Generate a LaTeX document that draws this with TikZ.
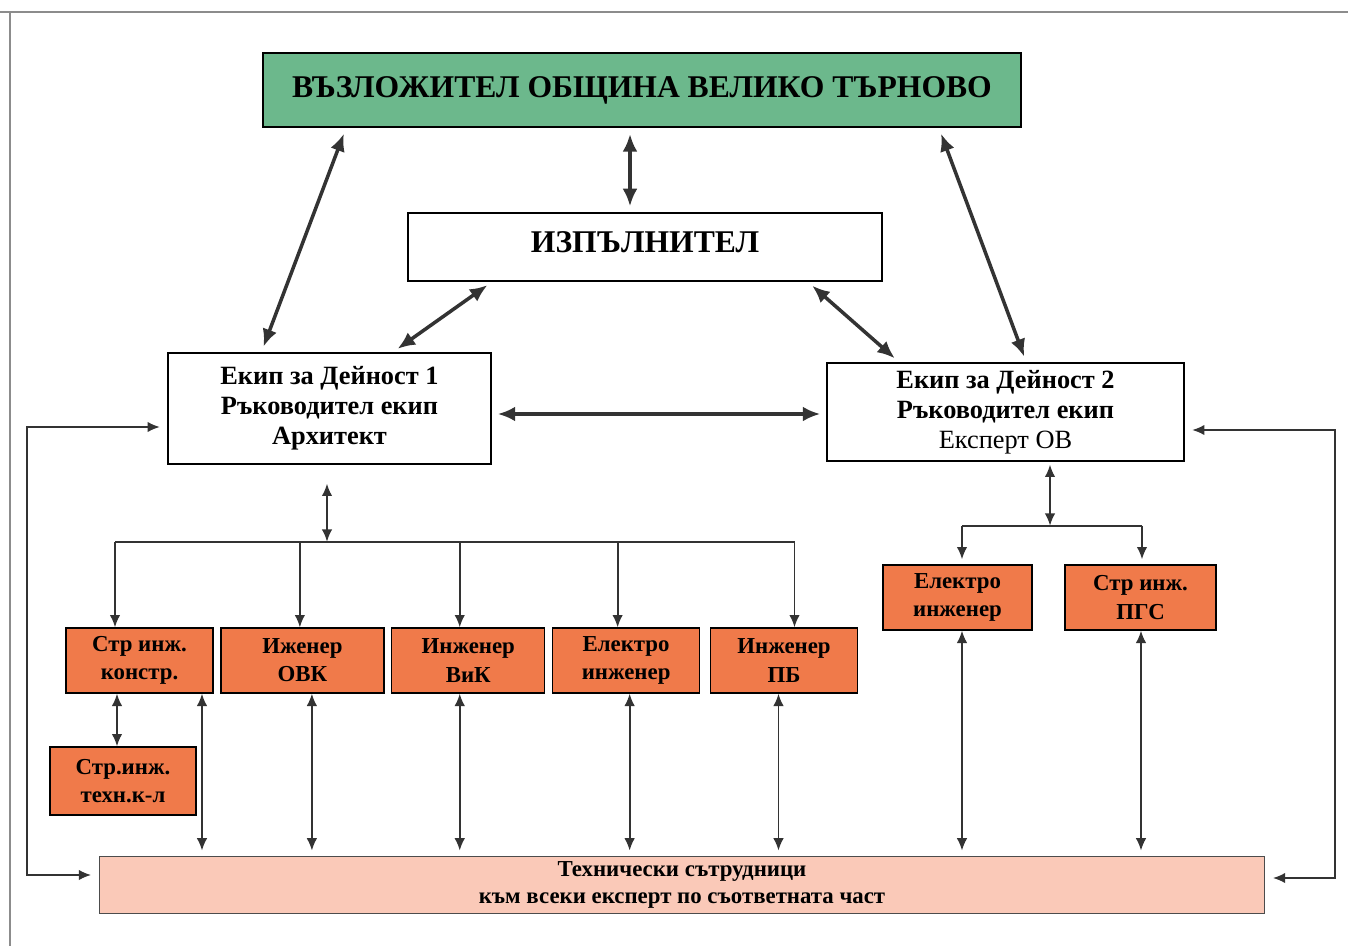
\documentclass[tikz,border=0pt]{standalone}
\usepackage{fontspec}
\setmainfont{Liberation Serif}
\usepackage{tikz}
\usetikzlibrary{positioning}
\usetikzlibrary{calc}
\usetikzlibrary{arrows.meta}

\definecolor{headgreen}{RGB}{108,184,140}
\definecolor{expertorange}{RGB}{240,122,74}
\definecolor{staffpink}{RGB}{250,201,184}

\begin{document}
\begin{tikzpicture}[
		x=0.02cm, y=-0.02cm,
		every node/.style = {
			shape=rectangle,
			draw,
			align=center
		},
		headbox/.style = {
			fill=headgreen, line width=1.2pt,
			font=\bfseries\fontsize{18}{22}\selectfont
		},
		leadbox/.style = {
			fill=white, line width=0.8pt,
			font=\bfseries\fontsize{15}{17}\selectfont
		},
		expertbox/.style = {
			fill=expertorange, line width=0.8pt,
			minimum height=1.3cm,
			font=\bfseries\fontsize{13}{16}\selectfont
		},
		staffbox/.style = {
			fill=staffpink, draw=black!70, line width=0.6pt,
			font=\bfseries\fontsize{13}{15}\selectfont
		},
		linkarrow/.style = {
			draw=black!80, line width=2pt,
			{Latex[length=10pt,width=8.5pt]}-{Latex[length=10pt,width=8.5pt]},
			shorten <=1.2mm, shorten >=1.2mm
		},
		twoway/.style = {
			draw=black!80, line width=1pt,
			{Latex[length=7pt,width=6pt]}-{Latex[length=7pt,width=6pt]}
		},
		dropline/.style = {
			draw=black!80, line width=1pt,
			-{Latex[length=7pt,width=6pt]}
		},
		busline/.style = {draw=black!80, line width=1pt},
		sideline/.style = {
			draw=black!80, line width=1pt,
			{Latex[length=7pt,width=6pt]}-{Latex[length=7pt,width=6pt]},
			shorten <=1.5mm, shorten >=1.5mm
		}
		]
		\useasboundingbox (0,0) rectangle (1348,946);
		% page frame
		\draw[black!45, line width=1pt] (0,12) -- (1348,12);
		\draw[black!45, line width=1pt] (10,12) -- (10,946);

		% boxes
		\node[headbox, minimum width=15.16cm, minimum height=1.48cm] (client) at (642,90) {ВЪЗЛОЖИТЕЛ ОБЩИНА ВЕЛИКО ТЪРНОВО};
		\node[leadbox, minimum width=9.48cm, minimum height=1.36cm, text depth=0.2cm, font=\bfseries\fontsize{18}{22}\selectfont] (contractor) at (645,247) {ИЗПЪЛНИТЕЛ};
		\node[leadbox, minimum width=6.46cm, minimum height=2.22cm] (team1) at (329.5,408.5) {Екип за Дейност 1\\Ръководител екип\\Архитект};
		\node[leadbox, minimum width=7.14cm, minimum height=1.96cm] (team2) at (1005.5,412) {Екип за Дейност 2\\Ръководител екип\\\mdseries Експерт ОВ};

		\node[expertbox, minimum width=2.94cm] (s1) at (139.5,660.5) {Стр инж.\\констр.};
		\node[expertbox, minimum width=3.26cm, right=1.3mm of s1] (s2) {Иженер\\ОВК};
		\node[expertbox, minimum width=3.06cm, right=1.3mm of s2] (s3) {Инженер\\ВиК};
		\node[expertbox, minimum width=2.94cm, right=1.3mm of s3] (s4) {Електро\\инженер};
		\node[expertbox, minimum width=2.94cm, right=1.9mm of s4] (s5) {Инженер\\ПБ};
		\node[expertbox, minimum width=2.92cm, minimum height=1.36cm] (s6) at (123,781) {Стр.инж.\\техн.к-л};

		\node[expertbox, minimum width=2.98cm] (r1) at (957.5,597.5) {Електро\\инженер};
		\node[expertbox, minimum width=3.02cm] (r2) at (1140.5,597.5) {Стр инж.\\ПГС};

		\node[staffbox, minimum width=23.32cm, minimum height=1.12cm] (staff) at (682,885) {Технически сътрудници\\към всеки експерт по съответната част};

		% top links
		\draw[linkarrow] ($(client.south west)+(84,0)$) -- ($(team1.north west)+(94,0)$);
		\draw[linkarrow] ($(contractor.north)+(-15,0)$) -- ($(client.south)+(-12,0)$);
		\draw[linkarrow] ($(client.south east)+(-83,0)$) -- ($(team2.north west)+(200,0)$);
		\draw[linkarrow] ($(contractor.south west)+(85,0)$) -- ($(team1.north east)+(-99,0)$);
		\draw[linkarrow] ($(contractor.south east)+(-75,0)$) -- ($(team2.north west)+(73,0)$);
		\draw[linkarrow] ($(team1.east)+(0,5.5)$) -- ($(team2.west)+(0,2)$);

		% team 1 branch
		\coordinate (hub1) at ($(team1.south)+(-2.5,77)$);
		\draw[twoway] ($(team1.south)+(-2.5,19)$) -- (hub1);
		\foreach \b/\dx in {s1/-24.5, s2/-2.5, s3/-8.5, s4/-8.5, s5/10.5} {
			\path ($(\b.north)+(\dx,0)$) coordinate (top\b);
			\draw[dropline] (top\b |- hub1) -- (top\b);
		}
		\draw[busline] (tops1 |- hub1) -- (tops5 |- hub1);
		\path ($(s6.north)+(-6,0)$) coordinate (s6top);
		\draw[twoway] (s6top) -- (s6top |- s1.south);

		% team 2 branch
		\coordinate (hub2) at ($(team2.south)+(44.5,64)$);
		\draw[twoway] ($(team2.south)+(44.5,3)$) -- (hub2);
		\foreach \b/\dx in {r1/4.5, r2/1.5} {
			\path ($(\b.north)+(\dx,-5)$) coordinate (top\b);
			\draw[dropline] (top\b |- hub2) -- (top\b);
		}
		\draw[busline] (topr1 |- hub2) -- (topr2 |- hub2);

		% links to the staff
		\foreach \b/\dx in {s1/62.5, s2/9.5, s3/-8.5, s4/3.5, s5/-5.5, r1/4.5, r2/0.5} {
			\path ($(\b.south)+(\dx,0)$) coordinate (bot\b);
			\draw[twoway, shorten <=1mm] (staff.north -| bot\b) -- (bot\b);
		}

		% side loops
		\coordinate (railL) at (27,0);
		\coordinate (railR) at (1335,0);
		\path ($(team1.west)+(0,18.5)$) coordinate (in1);
		\path ($(staff.west)+(0,-10)$) coordinate (in2);
		\draw[sideline] (in1) -- (in1 -| railL) -- (in2 -| railL) -- (in2);
		\path ($(team2.east)+(0,18)$) coordinate (in3);
		\path ($(staff.east)+(0,-7)$) coordinate (in4);
		\draw[sideline] (in3) -- (in3 -| railR) -- (in4 -| railR) -- (in4);
	\end{tikzpicture}
\end{document}
